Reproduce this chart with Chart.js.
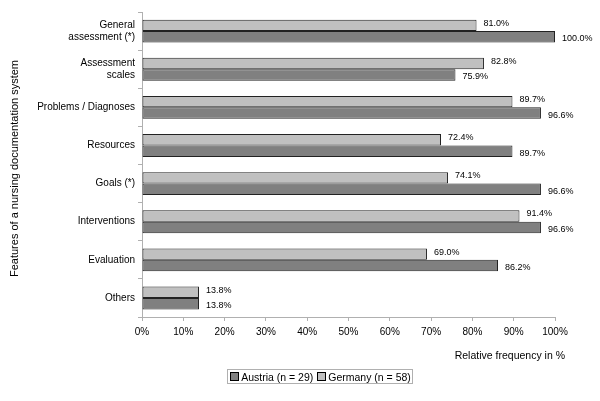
<!DOCTYPE html>
<html>
<head>
<meta charset="utf-8">
<script src="https://cdn.jsdelivr.net/npm/chart.js"></script>
<style>
  html, body { margin: 0; padding: 0; background: #fff; }
  #wrap { position: relative; width: 600px; height: 401px; }
  #legend {
    position: absolute; left: 227px; top: 369px; height: 15px; width: 186px;
    box-sizing: border-box; border: 1px solid #b0b0b0;
    font: 10.5px "Liberation Sans", Arial, sans-serif; color: #000;
    display: flex; align-items: center; justify-content: center; white-space: nowrap;
  }
  #legend span.sw { display: inline-block; width: 7px; height: 7px; border: 1px solid #000; margin: 0 2px 0 1px; }
</style>
</head>
<body>
<div id="wrap">
  <canvas id="chart" width="600" height="401"></canvas>
  <div id="legend"></div>
</div>
<script>
const categories = [
  ['General', 'assessment (*)'],
  ['Assessment', 'scales'],
  'Problems / Diagnoses',
  'Resources',
  'Goals (*)',
  'Interventions',
  'Evaluation',
  'Others'
];
const germany = [81.0, 82.8, 89.7, 72.4, 74.1, 91.4, 69.0, 13.8];
const austria = [100.0, 75.9, 96.6, 89.7, 96.6, 96.6, 86.2, 13.8];
const xTicks = [0, 10, 20, 30, 40, 50, 60, 70, 80, 90, 100];
const xTitle = 'Relative frequency in %';
const yTitle = 'Features of a nursing documentation system';

const FONT = '"Liberation Sans", Arial, sans-serif';

// value labels to the right of each bar
const valueLabels = {
  id: 'valueLabels',
  afterDatasetsDraw(chart) {
    const ctx = chart.ctx;
    ctx.save();
    ctx.font = '9px ' + FONT;
    ctx.fillStyle = '#000';
    ctx.textBaseline = 'middle';
    chart.data.datasets.forEach((ds, i) => {
      const meta = chart.getDatasetMeta(i);
      meta.data.forEach((bar, j) => {
        const dy = i === 0 ? -2 : 2;
        ctx.fillText(ds.data[j].toFixed(1) + '%', bar.x + 7, bar.y + dy);
      });
    });
    ctx.restore();
  }
};

// axis titles placed like the original
const axisTitles = {
  id: 'axisTitles',
  afterDraw(chart) {
    const ctx = chart.ctx;
    const area = chart.chartArea;
    ctx.save();
    ctx.fillStyle = '#000';
    ctx.font = '10.5px ' + FONT;
    ctx.textBaseline = 'middle';
    ctx.textAlign = 'right';
    ctx.fillText(xTitle, area.right + 10, 356);
    ctx.translate(15, (area.top + area.bottom) / 2 + 4);
    ctx.rotate(-Math.PI / 2);
    ctx.textAlign = 'center';
    ctx.font = '11px ' + FONT;
    ctx.fillText(yTitle, 0, 0);
    ctx.restore();
  }
};

const chart = new Chart(document.getElementById('chart'), {
  type: 'bar',
  data: {
    labels: categories,
    datasets: [
      {
        label: 'Germany (n = 58)',
        data: germany,
        backgroundColor: '#c0c0c0',
        borderColor: '#222',
        borderWidth: 1,
        borderSkipped: false,
        barPercentage: 1.0,
        categoryPercentage: 0.6
      },
      {
        label: 'Austria (n = 29)',
        data: austria,
        backgroundColor: '#808080',
        borderColor: '#222',
        borderWidth: 1,
        borderSkipped: false,
        barPercentage: 1.0,
        categoryPercentage: 0.6
      }
    ]
  },
  options: {
    indexAxis: 'y',
    responsive: false,
    animation: false,
    layout: { padding: { left: 0, right: 45, top: 12, bottom: 34 } },
    plugins: {
      legend: { display: false },
      tooltip: { enabled: false }
    },
    scales: {
      x: {
        min: 0,
        max: 100,
        afterBuildTicks(scale) { scale.ticks = xTicks.map(v => ({ value: v })); },
        afterFit(scale) { scale.height = 50; },
        grid: { drawOnChartArea: false, color: '#b0b0b0', tickLength: 4 },
        border: { color: '#b0b0b0' },
        ticks: {
          color: '#000',
          font: { family: FONT, size: 10 },
          padding: 5,
          maxRotation: 0,
          callback: v => v + '%'
        }
      },
      y: {
        afterFit(scale) { scale.width = 142; },
        grid: { drawOnChartArea: false, color: '#b0b0b0', tickLength: 4, offset: true },
        border: { color: '#b0b0b0' },
        ticks: {
          color: '#000',
          font: { family: FONT, size: 10 },
          padding: 3
        }
      }
    }
  },
  plugins: [valueLabels, axisTitles]
});

// legend: Austria first, then Germany
const legendEl = document.getElementById('legend');
[chart.data.datasets[1], chart.data.datasets[0]].forEach((ds, k) => {
  const sw = document.createElement('span');
  sw.className = 'sw';
  sw.style.background = ds.backgroundColor;
  if (k > 0) sw.style.marginLeft = '4px';
  legendEl.appendChild(sw);
  legendEl.appendChild(document.createTextNode(ds.label));
});
</script>
</body>
</html>
